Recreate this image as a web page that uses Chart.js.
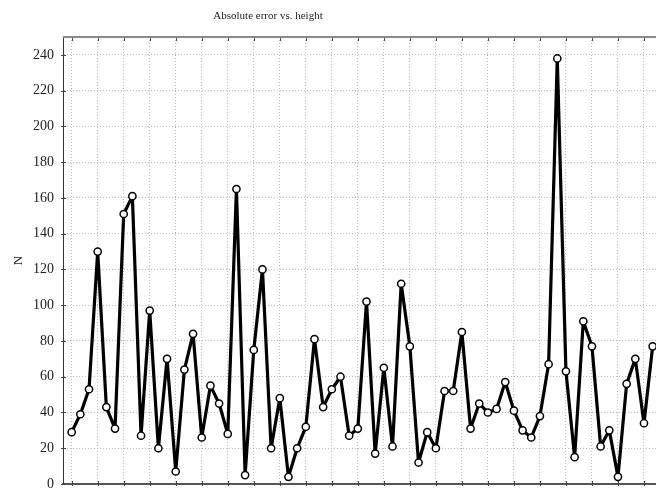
<!DOCTYPE html>
<html>
<head>
<meta charset="utf-8">
<title>Absolute error vs. height</title>
<script src="https://cdn.jsdelivr.net/npm/chart.js@4.4.1/dist/chart.umd.min.js"></script>
<style>
  html, body { margin: 0; padding: 0; background: #fff; }
  #frame { width: 656px; height: 488px; overflow: hidden; position: relative; }
  #errChart { display: block; }
</style>
</head>
<body>
<div id="frame">
  <canvas id="errChart" width="680" height="520"></canvas>
</div>
<script>
// absolute error N for each height step
const errorN = [
  29, 39, 53, 130, 43, 31, 151, 161, 27, 97,
  20, 70, 7, 64, 84, 26, 55, 45, 28, 165,
  5, 75, 120, 20, 48, 4, 20, 32, 81, 43,
  53, 60, 27, 31, 102, 17, 65, 21, 112, 77,
  12, 29, 20, 52, 52, 85, 31, 45, 40, 42,
  57, 41, 30, 26, 38, 67, 238, 63, 15, 91,
  77, 21, 30, 4, 56, 70, 34, 77
];

// y axis tick values
const yTicks = [0, 20, 40, 60, 80, 100, 120, 140, 160, 180, 200, 220, 240];

// x grid every third sample
const xGrid = [];
for (let i = 0; i <= 69; i += 3) xGrid.push(i);

const points = errorN.map((v, i) => ({ x: i, y: v }));

const serif = '"Liberation Serif", "Times New Roman", serif';
const dotted = '#bdbdbd';

// title, frame top line and small tick marks
const framePlugin = {
  id: 'framePlugin',
  beforeDatasetsDraw(chart) {
    const { ctx, chartArea: a, scales } = chart;
    ctx.save();
    ctx.strokeStyle = '#444';
    ctx.lineWidth = 1;
    ctx.beginPath();
    yTicks.forEach(t => {
      const y = Math.round(scales.y.getPixelForValue(t)) + 0.5;
      ctx.moveTo(a.left - 2, y);
      ctx.lineTo(a.left + 3, y);
    });
    xGrid.forEach(t => {
      const x = Math.round(scales.x.getPixelForValue(t)) + 0.5;
      ctx.moveTo(x, a.top);
      ctx.lineTo(x, a.top + 4);
      ctx.moveTo(x, a.bottom + 2);
      ctx.lineTo(x, a.bottom - 3);
    });
    ctx.stroke();
    ctx.strokeStyle = '#8a8a8a';
    ctx.lineWidth = 2;
    ctx.beginPath();
    ctx.moveTo(a.left, a.top);
    ctx.lineTo(a.right, a.top);
    ctx.stroke();
    ctx.restore();
  },
  afterDraw(chart) {
    const { ctx } = chart;
    ctx.save();
    ctx.fillStyle = '#222';
    ctx.font = '11px ' + serif;
    ctx.textAlign = 'center';
    ctx.textBaseline = 'middle';
    ctx.fillText('Absolute error vs. height', 268, 16);
    ctx.restore();
  }
};

new Chart(document.getElementById('errChart'), {
  type: 'line',
  data: {
    datasets: [{
      data: points,
      borderColor: '#000',
      borderWidth: 3.2,
      borderJoinStyle: 'round',
      pointRadius: 3.6,
      pointBorderWidth: 1.5,
      pointBackgroundColor: '#fff',
      pointBorderColor: '#000',
      tension: 0
    }]
  },
  options: {
    responsive: false,
    animation: false,
    devicePixelRatio: 1,
    layout: { padding: { left: 0, top: 37, right: 10, bottom: 36 } },
    plugins: {
      legend: { display: false },
      tooltip: { enabled: false }
    },
    scales: {
      x: {
        type: 'linear',
        min: -1,
        max: 69,
        afterBuildTicks: s => { s.ticks = xGrid.map(v => ({ value: v })); },
        afterFit: s => { s.height = 0; },
        ticks: { display: false },
        grid: { color: dotted, lineWidth: 1, drawTicks: false },
        border: { color: '#555', width: 2, dash: [1, 2] }
      },
      y: {
        min: 0,
        max: 250,
        afterBuildTicks: s => { s.ticks = yTicks.map(v => ({ value: v })); },
        afterFit: s => { s.width = 63; },
        ticks: {
          padding: 9,
          color: '#222',
          font: { family: serif, size: 14 }
        },
        grid: { color: dotted, lineWidth: 1, drawTicks: false },
        border: { color: '#333', width: 1, dash: [1, 2] },
        title: {
          display: true,
          text: 'N',
          color: '#222',
          font: { family: serif, size: 13 },
          padding: { top: 11, bottom: 0 }
        }
      }
    }
  },
  plugins: [framePlugin]
});
</script>
</body>
</html>
